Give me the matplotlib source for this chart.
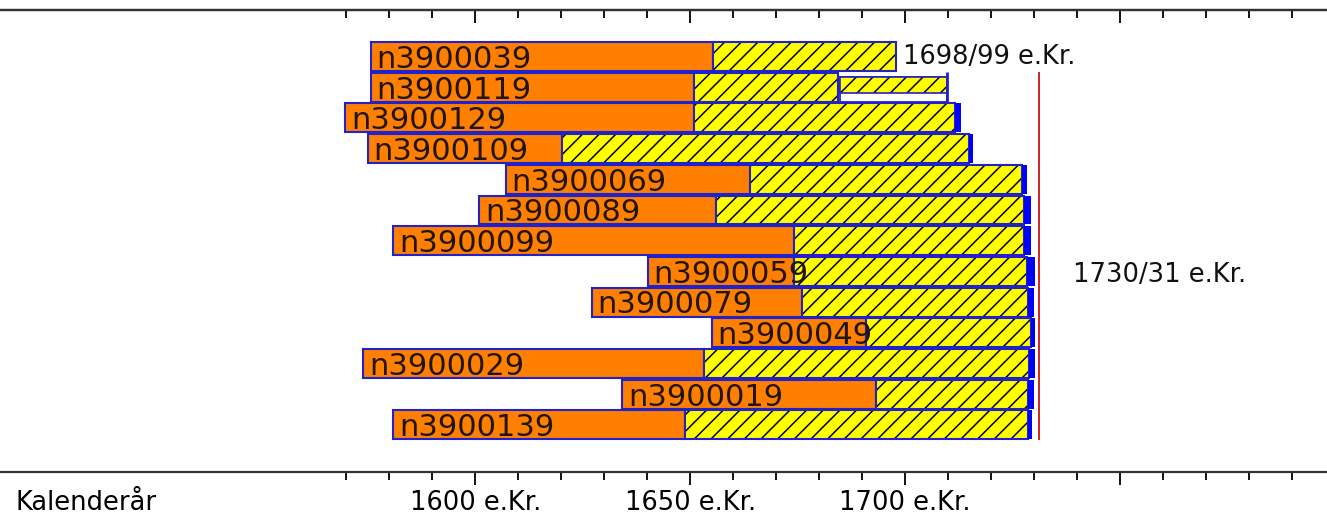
import numpy as np
import matplotlib
matplotlib.use("Agg")
import matplotlib.pyplot as plt

plt.rcParams["hatch.linewidth"] = 1.1

# dendro samples, top to bottom
samples = ["n3900039", "n3900119", "n3900129", "n3900109", "n3900069", "n3900089", "n3900099",
           "n3900059", "n3900079", "n3900049", "n3900029", "n3900019", "n3900139"]
start_year = np.array([1575.8, 1575.8, 1569.8, 1575.0, 1607.1, 1601.0, 1581.0,
                       1640.2, 1627.2, 1655.1, 1574.0, 1634.2, 1581.0])
heart_end = np.array([1655.2, 1650.9, 1650.9, 1620.1, 1663.9, 1655.9, 1674.2,
                      1674.2, 1676.0, 1690.8, 1653.3, 1693.3, 1648.8])
sap_end = np.array([1697.9, 1684.4, 1711.6, 1714.9, 1727.1, 1727.6, 1727.6,
                    1728.4, 1728.6, 1729.3, 1728.8, 1728.6, 1728.6])
# blue waney edge marks (0 = none)
bark_end = np.array([0, 0, 1713.0, 1715.8, 1728.4, 1729.3, 1729.2,
                     1730.1, 1729.9, 1730.3, 1730.3, 1730.0, 1729.6])
# n3900119 has a loose piece of sapwood after a gap
loose_start, loose_end = 1684.9, 1709.8

felling_1 = "1698/99 e.Kr."
felling_2 = "1730/31 e.Kr."
felling_2_year = 1731.2

major_ticks = [1600, 1650, 1700, 1750]
major_labels = ["1600 e.Kr.", "1650 e.Kr.", "1700 e.Kr.", ""]
minor_ticks = [y for y in range(1570, 1800, 10) if y not in major_ticks]

blue = "#2222cc"
orange = "#ff8000"
yellow = "#ffff00"

fig = plt.figure(figsize=(13.27, 5.28), dpi=100)
ax = fig.add_axes([0, 56 / 528, 1, 462 / 528])
ax.set_xlim(1489.5, 1798.1)
ax.set_ylim(13.534, -1.515)

rows = np.arange(len(samples))
h = 0.94

ax.barh(rows, heart_end - start_year, left=start_year, height=h, color=orange, edgecolor=blue, lw=1.5)
ax.barh(rows, sap_end - heart_end, left=heart_end, height=h, color=yellow, edgecolor="black", lw=0, hatch="//")
ax.barh(rows, sap_end - heart_end, left=heart_end, height=h, fill=False, edgecolor=blue, lw=1.5)

# loose sapwood piece on row 2
ax.barh(1.08, loose_end - loose_start, left=loose_start, height=0.8, color="white", edgecolor=blue, lw=1.3)
ax.barh(0.93, loose_end - loose_start, left=loose_start, height=0.5, color=yellow, edgecolor="black", lw=0, hatch="//")
ax.barh(0.93, loose_end - loose_start, left=loose_start, height=0.5, fill=False, edgecolor=blue, lw=1.2)
ax.vlines(loose_end, 0.5, 1.5, color=blue, lw=2)

# waney edge
has_bark = bark_end > 0
ax.barh(rows[has_bark], bark_end[has_bark] - sap_end[has_bark], left=sap_end[has_bark],
        height=h, color="#0000ff", lw=0)

for r, name in enumerate(samples):
    ax.text(start_year[r] + 1.3, r + 0.37, name, fontsize=22, va="baseline", color="#221508")

ax.vlines(felling_2_year, 0.5, 12.5, color="#cc1111", lw=1.3)
ax.text(1699.5, 0, felling_1, fontsize=18.5, va="center", color="#111111")
ax.text(1739.1, 7.12, felling_2, fontsize=18.5, va="center", color="#111111")

for s in ["left", "right"]:
    ax.spines[s].set_visible(False)
for s in ["top", "bottom"]:
    ax.spines[s].set_linewidth(1.6)
    ax.spines[s].set_color("#333333")
ax.set_yticks([])
ax.set_xticks(major_ticks, labels=major_labels)
ax.set_xticks(minor_ticks, minor=True)
ax.tick_params(axis="x", which="major", direction="out", length=9, width=1.3, pad=4, labelsize=18.5)
ax.tick_params(axis="x", which="minor", direction="out", length=6, width=1.3)

top = ax.secondary_xaxis("top")
top.set_xticks(major_ticks, labels=[""] * len(major_ticks))
top.set_xticks(minor_ticks, minor=True)
top.tick_params(axis="x", which="major", direction="in", length=9, width=1.3)
top.tick_params(axis="x", which="minor", direction="in", length=6, width=1.3)
top.spines["top"].set_linewidth(1.6)
top.spines["top"].set_color("#333333")

fig.text(15 / 1327, 1 - 503 / 528, "Kalenderår", fontsize=18.5, va="center")

fig.savefig("out.png", dpi=100)
